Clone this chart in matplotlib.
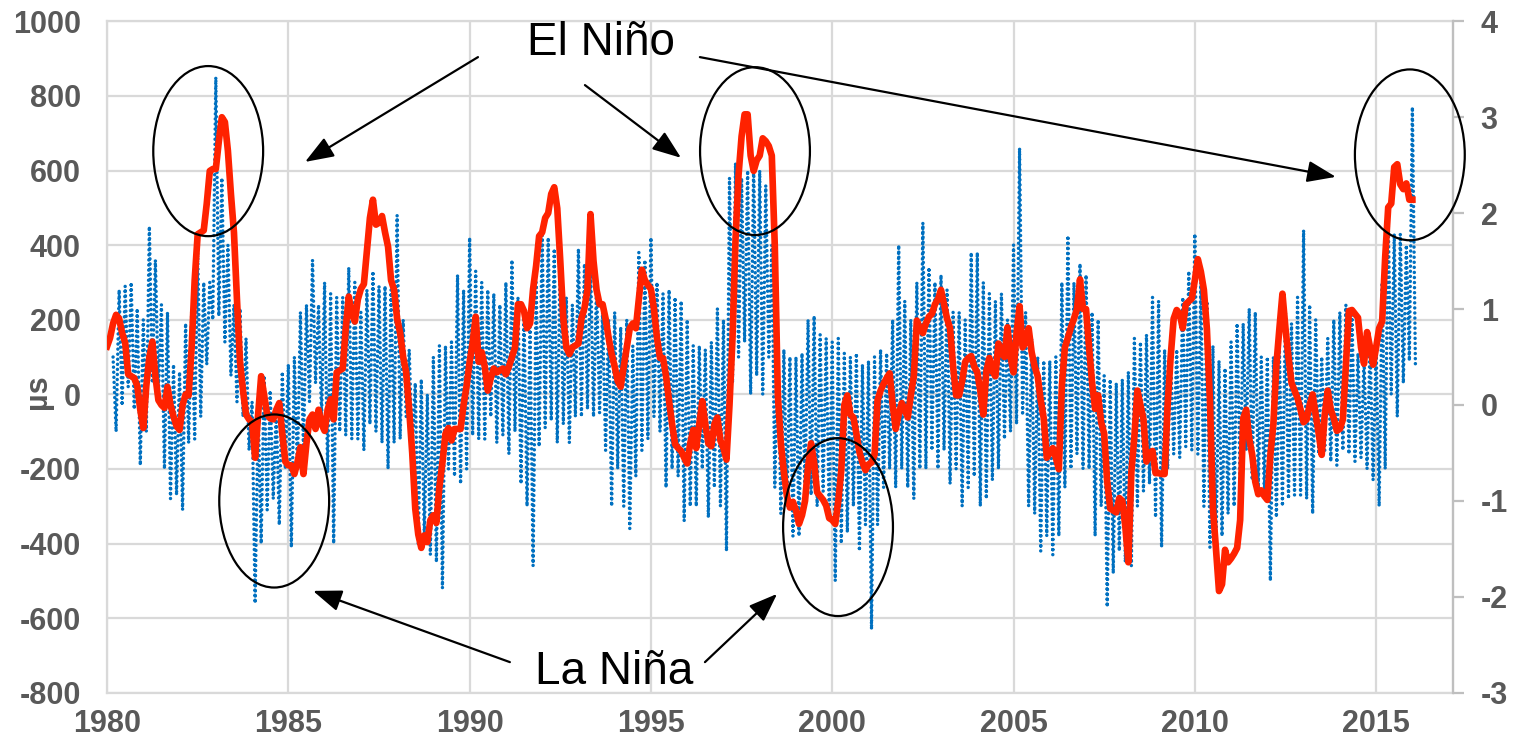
import numpy as np
import matplotlib
matplotlib.use('Agg')
import matplotlib.pyplot as plt
from matplotlib.patches import Ellipse

plt.rcParams['font.family'] = ['Liberation Sans', 'DejaVu Sans']
plt.rcParams['axes.unicode_minus'] = False

# red line: ENSO index (right axis), monthly from Jan 1980
mei = [
    0.61, 0.70, 0.85, 0.94, 0.90, 0.75, 0.65, 0.32, 0.30, 0.28, 0.20, -0.05,   # 1980
    -0.24, 0.20, 0.50, 0.66, 0.30, 0.05, 0.00, -0.03, 0.19, 0.00, -0.12, -0.22,  # 1981
    -0.26, 0.00, 0.11, 0.10, 0.60, 1.30, 1.78, 1.80, 1.82, 2.10, 2.44, 2.46,  # 1982
    2.46, 2.75, 3.00, 2.95, 2.65, 2.20, 1.80, 1.10, 0.45, 0.15, -0.10, -0.15,  # 1983
    -0.18, -0.55, -0.10, 0.30, 0.10, -0.10, -0.14, -0.15, -0.05, 0.02, -0.30, -0.59,  # 1984
    -0.63, -0.63, -0.72, -0.60, -0.44, -0.72, -0.40, -0.15, -0.10, -0.25, -0.05, -0.20,  # 1985
    -0.27, -0.05, 0.06, -0.15, 0.34, 0.36, 0.38, 0.80, 1.13, 0.95, 0.87, 1.10,  # 1986
    1.21, 1.26, 1.60, 1.95, 2.14, 1.88, 1.90, 1.97, 1.80, 1.65, 1.30, 1.20,  # 1987
    0.90, 0.75, 0.50, 0.34, -0.05, -0.50, -1.08, -1.35, -1.49, -1.36, -1.43, -1.20,  # 1988
    -1.15, -1.23, -0.85, -0.60, -0.30, -0.24, -0.37, -0.25, -0.25, -0.25, 0.00, 0.20,  # 1989
    0.45, 0.65, 0.92, 0.45, 0.55, 0.40, 0.15, 0.28, 0.38, 0.34, 0.36, 0.38,  # 1990
    0.32, 0.40, 0.50, 0.60, 1.05, 1.05, 0.98, 0.80, 0.85, 1.21, 1.45, 1.76,  # 1991
    1.80, 1.95, 2.00, 2.20, 2.27, 2.05, 1.50, 0.90, 0.60, 0.53, 0.60, 0.62,  # 1992
    0.64, 0.90, 1.01, 1.20, 1.99, 1.50, 1.20, 1.05, 1.05, 0.90, 0.70, 0.53,  # 1993
    0.40, 0.25, 0.19, 0.40, 0.60, 0.80, 0.85, 0.80, 1.10, 1.41, 1.30, 1.25,  # 1994
    1.21, 1.00, 0.70, 0.49, 0.49, 0.30, 0.04, -0.20, -0.41, -0.45, -0.48, -0.55,  # 1995
    -0.61, -0.40, -0.26, -0.45, -0.20, 0.04, -0.20, -0.40, -0.43, -0.20, -0.13, -0.37,  # 1996
    -0.45, -0.57, 0.00, 0.70, 1.73, 2.40, 2.80, 3.03, 3.03, 2.60, 2.44, 2.55,  # 1997
    2.60, 2.78, 2.75, 2.70, 2.60, 1.65, 0.10, -0.40, -0.70, -0.95, -1.07, -1.01,  # 1998
    -1.10, -1.24, -1.15, -1.00, -0.65, -0.40, -0.60, -0.91, -0.95, -0.99, -1.05, -1.18,  # 1999
    -1.20, -1.24, -1.00, -0.68, 0.00, 0.10, -0.10, -0.13, -0.30, -0.49, -0.60, -0.68,  # 2000
    -0.62, -0.60, -0.52, 0.05, 0.15, 0.22, 0.28, 0.33, 0.00, -0.25, -0.10, 0.02,  # 2001
    -0.05, -0.13, 0.10, 0.30, 0.88, 0.80, 0.75, 0.85, 0.92, 0.95, 1.05, 1.10,  # 2002
    1.20, 1.05, 0.90, 0.80, 0.40, 0.10, 0.10, 0.25, 0.45, 0.49, 0.51, 0.40,  # 2003
    0.34, 0.15, -0.10, 0.35, 0.49, 0.35, 0.30, 0.64, 0.55, 0.50, 0.81, 0.50,  # 2004
    0.34, 0.75, 1.03, 0.60, 0.65, 0.80, 0.55, 0.40, 0.30, 0.05, -0.14, -0.55,  # 2005
    -0.50, -0.45, -0.55, -0.67, 0.20, 0.60, 0.70, 0.81, 0.90, 1.00, 1.31, 1.00,  # 2006
    1.00, 0.60, 0.23, -0.04, 0.10, -0.18, -0.30, -0.80, -1.08, -1.10, -1.12, -0.97,  # 2007
    -1.00, -1.27, -1.64, -0.70, -0.33, 0.15, 0.00, -0.15, -0.59, -0.50, -0.48, -0.71,  # 2008
    -0.71, -0.72, -0.72, 0.00, 0.50, 0.90, 0.99, 0.95, 0.80, 1.05, 1.08, 1.11,  # 2009
    1.30, 1.52, 1.39, 1.20, 0.79, 0.04, -1.08, -1.50, -1.94, -1.87, -1.51, -1.64,  # 2010
    -1.60, -1.55, -1.49, -1.20, -0.14, -0.05, -0.35, -0.52, -0.80, -0.93, -0.89, -0.95,  # 2011
    -0.99, -0.52, -0.20, 0.42, 0.80, 1.16, 0.80, 0.50, 0.23, 0.15, 0.07, -0.05,  # 2012
    -0.18, -0.15, 0.00, 0.11, -0.10, -0.30, -0.52, -0.10, 0.15, -0.05, -0.14, -0.27,  # 2013
    -0.25, -0.15, 0.42, 0.98, 0.99, 0.95, 0.91, 0.60, 0.43, 0.76, 0.60, 0.42,  # 2014
    0.60, 0.80, 0.87, 1.54, 2.06, 2.10, 2.48, 2.51, 2.30, 2.25, 2.31, 2.14,  # 2015
    2.14,  # 2016
]

# blue dots: LOD (left axis, us), two-monthly upper and lower reach, from Mar 1980
lod_hi = [
    100, 280, 290, 300, 230,
    200, 450, 360, 240, 220, 80,
    60, 190, 220, 380, 300, 300,
    850, 580, 400, 240, 230, 150,
    -20, -40, 50, 10, -40, 60,
    80, 100, 220, 240, 360, 240,
    300, 270, 260, 260, 340, 300,
    220, 280, 330, 290, 290, 280,
    480, 200, 120, 30, 40, 0,
    100, 130, 130, 140, 320, 280,
    420, 330, 300, 280, 270, 240,
    300, 360, 260, 220, 180, 300,
    440, 420, 390, 380, 260, 240,
    390, 350, 360, 300, 220, 200,
    220, 180, 200, 130, 380, 360,
    420, 300, 270, 280, 260, 250,
    200, 130, 130, 120, 140, 230,
    200, 580, 620, 580, 600, 620,
    600, 560, 400, 150, 120, 100,
    100, 110, 200, 210, 160, 150,
    140, 150, 110, 100, 110, 80,
    90, 100, 120, 110, 200, 400,
    250, 200, 300, 460, 340, 300,
    320, 280, 220, 220, 200, 380,
    380, 300, 270, 250, 270, 200,
    400, 660, 220, 150, 100, 90,
    90, 100, 300, 425, 300, 350,
    320, 220, 200, 50, 40, 30,
    40, 60, 150, 140, 160, 260,
    250, 120, 110, 120, 260, 330,
    430, 300, 250, 130, 90, 70,
    140, 190, 190, 230, 220, 100,
    100, 100, 120, 220, 190, 260,
    440, 240, 200, 100, 150, 200,
    220, 240, 220, 110, 100, 140,
    130, 300, 470, 430, 430, 400,
    770,
]
lod_lo = [
    -100, -30, 20, -40, -190,
    -100, 30, 0, -200, -280, -270,
    -310, -130, -120, -60, 80, 200,
    210, 140, 50, -20, -60, -150,
    -560, -400, -310, -280, -350, -200,
    -410, -200, -150, -20, 30, -60,
    -210, -400, -100, -110, -120, -120,
    -150, -80, -100, -130, -200, -130,
    -120, -60, -150, -400, -380, -430,
    -450, -520, -200, -220, -240, -200,
    -110, -120, -120, -60, -130, -110,
    -160, -100, -240, -300, -460, -140,
    -90, -70, -130, -80, -130, -60,
    -60, -40, -60, -50, -150, -300,
    -200, -300, -360, -220, -150, -120,
    -60, -100, -250, -200, -220, -340,
    -300, -300, -200, -330, -250, -300,
    -420, 30, 100, 140, 0, 50,
    0, 100, -250, -320, -300, -380,
    -380, -260, -270, -300, -260, -330,
    -500, -400, -370, -300, -420, -350,
    -630, -350, -250, -200, -250, -200,
    -250, -280, -200, -200, -150, -200,
    -150, -240, -200, -300, -250, -220,
    -300, -280, -230, -200, -120, -100,
    -80, -50, -300, -320, -420, -380,
    -430, -380, -250, -200, -160, -200,
    -200, -380, -300, -570, -480, -420,
    -450, -460, -300, -260, -240, -330,
    -410, -200, -160, -170, -140, -150,
    -160, -300, -410, -420, -380, -320,
    -300, -240, -150, -230, -250, -270,
    -500, -330, -300, -280, -270, -270,
    -280, -320, -160, -150, -180, -190,
    -150, -160, -180, -170, -200, -230,
    -300, -200, 0, -60, 30, 90,
    80,
]

t_mei = 1980 + np.arange(len(mei)) / 12
lod = np.ravel(np.column_stack([lod_hi, lod_lo]))
t_lod = 1980 + 2 / 12 + np.arange(len(lod)) / 12

gray = '#595959'
grid = '#D9D9D9'

fig = plt.figure(figsize=(15.14, 7.4), dpi=100)
ax = fig.add_axes([0.0707, 0.0639, 0.889, 0.9073])
ax.plot(t_lod, lod, color='#0070C0', lw=2.5, ls=(0, (0.01, 1.45)),
        dash_capstyle='round')
ax.set_xlim(1980, 2017.12)
ax.set_ylim(-800, 1000)
ax.set_yticks(range(-800, 1001, 200))
ax.set_xticks(range(1980, 2016, 5))
ax.grid(True, color=grid, lw=1.6)
ax.set_axisbelow(True)
for s in ax.spines.values():
    s.set_color(grid)
    s.set_linewidth(1.6)
ax.tick_params(length=0, labelsize=22, labelcolor=gray)
ax.tick_params(axis='y', pad=19)
ax.tick_params(axis='x', pad=12)
for lab in ax.get_xticklabels() + ax.get_yticklabels():
    lab.set_fontweight('bold')
fig.text(38 / 1514, 1 - 392 / 740, 'µs', rotation=90, ha='center', va='center',
         fontsize=22, fontweight='bold', color=gray)

ax2 = ax.twinx()
ax2.plot(t_mei, mei, color='#FF2200', lw=4.8, solid_joinstyle='round')
ax2.set_ylim(-3, 4)
ax2.set_yticks(range(-3, 5))
for s in ax2.spines.values():
    s.set_visible(False)
ax2.spines['right'].set_visible(True)
ax2.spines['right'].set_color('#BFBFBF')
ax2.spines['right'].set_linewidth(1.6)
ax2.tick_params(axis='y', length=8, width=1.6, color='#BFBFBF', labelsize=22,
                labelcolor=gray, pad=12)
for lab in ax2.get_yticklabels():
    lab.set_fontweight('bold')

# ellipses round the events (centre year, centre us, width yr, height us)
rings = [(1982.79, 652, 3.03, 456), (1984.61, -286, 3.03, 464),
         (1997.87, 652, 3.03, 450), (2000.16, -356, 3.03, 477),
         (2015.93, 642, 3.03, 458)]
for cx, cy, w, h in rings:
    ax2.add_patch(Ellipse((cx, cy), w, h, transform=ax.transData, fill=False,
                          ec='black', lw=1.6, clip_on=False, zorder=5))

arrow = dict(arrowstyle='-|>,head_length=0.8,head_width=0.3', color='black',
             lw=1.6, mutation_scale=22, shrinkA=0, shrinkB=0)
for tail, head in [((1990.23, 904), (1985.46, 623)),
                   ((1993.18, 829), (1995.83, 634)),
                   ((1996.35, 904), (2013.89, 583))]:
    ax2.annotate('', xy=head, xytext=tail, xycoords=ax.transData,
                 textcoords=ax.transData, arrowprops=arrow)
for tail, head in [((1991.11, -718), (1985.68, -527)),
                   ((1996.49, -718), (1998.48, -535))]:
    ax2.annotate('', xy=head, xytext=tail, xycoords=ax.transData,
                 textcoords=ax.transData, arrowprops=arrow)

ax2.text(1993.62, 942, 'El Niño', transform=ax.transData, ha='center',
         va='center', fontsize=33, color='black')
ax2.text(1993.98, -744, 'La Niña', transform=ax.transData, ha='center',
         va='center', fontsize=33, color='black')

ax2.set_ylim(-3, 4)
fig.savefig('out.png', dpi=100)
